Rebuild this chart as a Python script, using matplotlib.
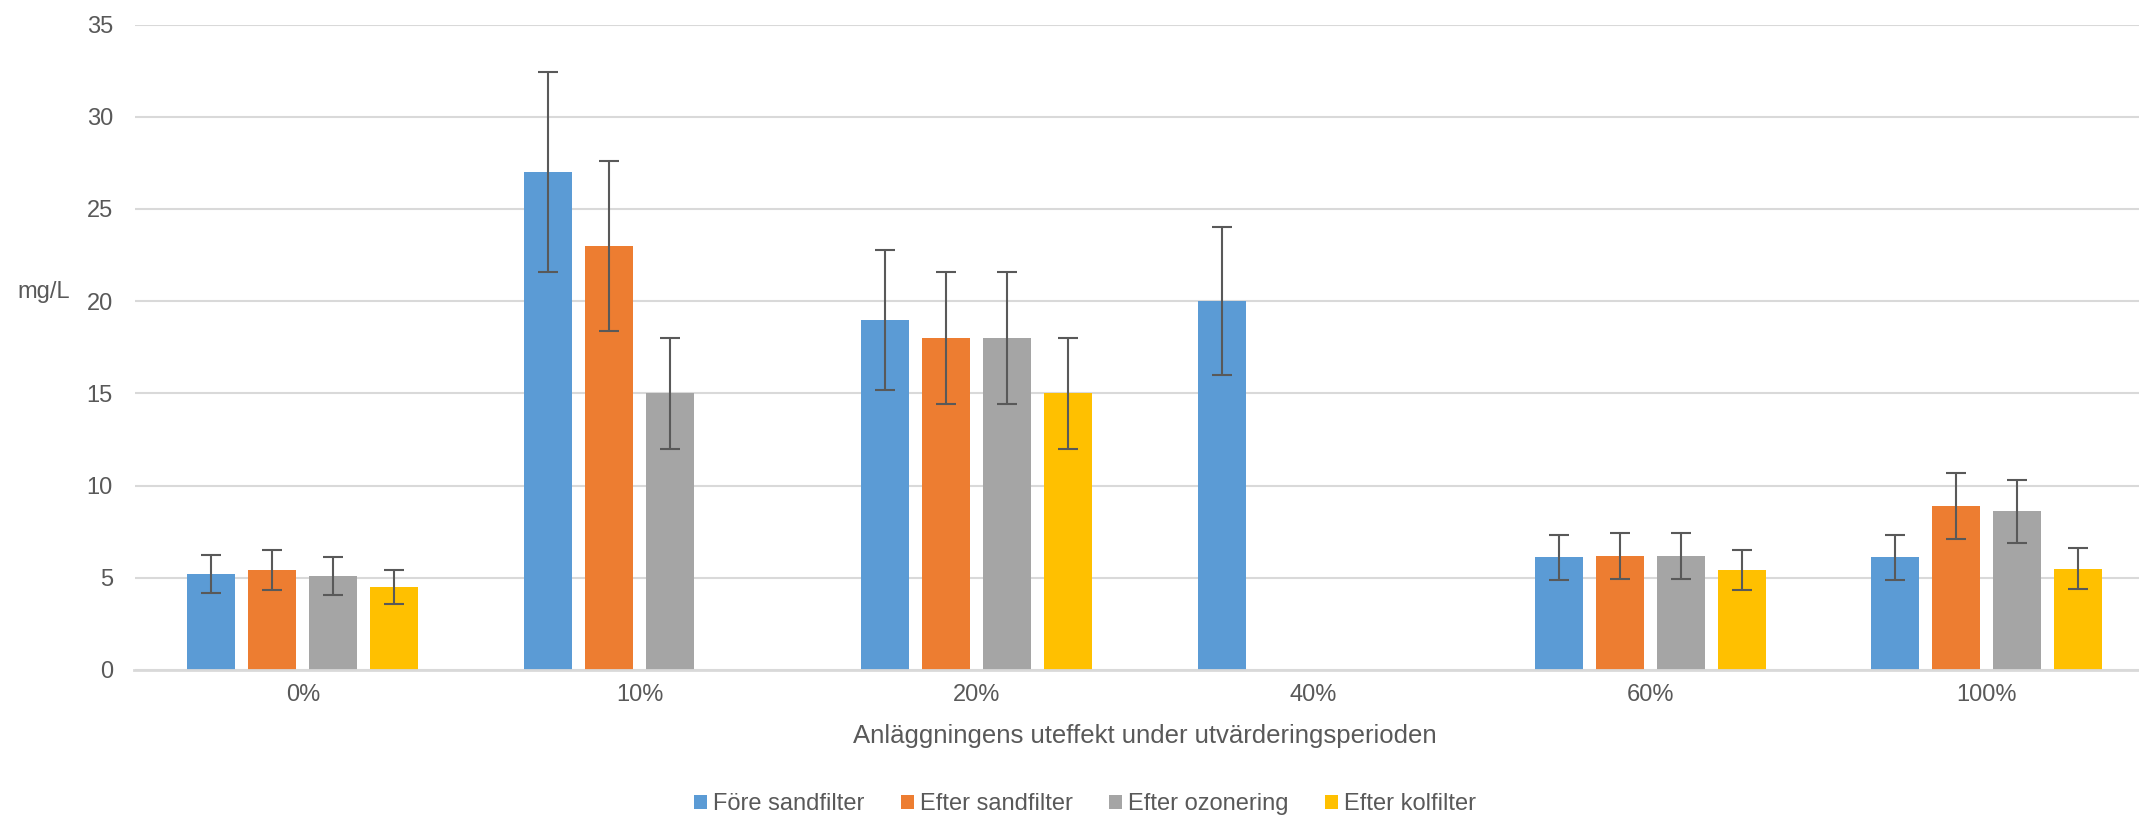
import numpy as np
import matplotlib
matplotlib.use('Agg')
import matplotlib.pyplot as plt

# data
categories = ['0%', '10%', '20%', '40%', '60%', '100%']
series = ['Före sandfilter', 'Efter sandfilter', 'Efter ozonering', 'Efter kolfilter']

fore_sand = [5.2, 27.0, 19.0, 20.0, 6.1, 6.1]
efter_sand = [5.4, 23.0, 18.0, 0.0, 6.2, 8.9]
efter_ozon = [5.1, 15.0, 18.0, 0.0, 6.2, 8.6]
efter_kol = [4.5, 0.0, 15.0, 0.0, 5.4, 5.5]

fore_sand_err = [1.04, 5.4, 3.8, 4.0, 1.22, 1.22]
efter_sand_err = [1.08, 4.6, 3.6, 0.0, 1.24, 1.78]
efter_ozon_err = [1.02, 3.0, 3.6, 0.0, 1.24, 1.72]
efter_kol_err = [0.9, 0.0, 3.0, 0.0, 1.08, 1.1]

values = [fore_sand, efter_sand, efter_ozon, efter_kol]
errors = [fore_sand_err, efter_sand_err, efter_ozon_err, efter_kol_err]
colors = ['#5B9BD5', '#ED7D31', '#A5A5A5', '#FFC000']

txt = '#595959'
plt.rcParams['font.family'] = ['Liberation Sans', 'DejaVu Sans']

W, H = 2139, 818
fig = plt.figure(figsize=(W / 100, H / 100), dpi=100)
# axes runs slightly past the right edge (reference is cropped there)
ax = fig.add_axes([134.5 / W, 1 - 670 / H, 6 * 336.8 / W, (670 - 24.5) / H])

x = np.arange(len(categories))
pitch = 0.181
bw = 0.1425

handles = []
for k in range(4):
    xs = x + (k - 1.5) * pitch
    v = np.array(values[k])
    e = np.array(errors[k])
    b = ax.bar(xs, v, width=bw, color=colors[k], label=series[k], zorder=2)
    handles.append(b)
    # no error bar on the empty (zero) bars
    m = v > 0
    ax.errorbar(xs[m], v[m], yerr=e[m], fmt='none', ecolor='#595959',
                elinewidth=1.5, capsize=7, capthick=1.5, zorder=3)

ax.set_xlim(-0.5, 5.5)
ax.set_ylim(0, 35)
ax.set_yticks(np.arange(0, 36, 5))
ax.set_xticks(x)
ax.set_xticklabels(categories)
ax.yaxis.grid(True, color='#D9D9D9', linewidth=1.5, zorder=0)
ax.set_axisbelow(True)
for s in ['left', 'right', 'top']:
    ax.spines[s].set_visible(False)
ax.spines['bottom'].set_color('#D9D9D9')
ax.spines['bottom'].set_linewidth(2)
ax.tick_params(axis='both', length=0, labelsize=17, colors=txt)
ax.tick_params(axis='y', pad=15.5)
ax.tick_params(axis='x', pad=10)

fig.text(17 / W, 1 - 298 / H, 'mg/L', fontsize=17, color=txt,
         ha='left', va='baseline')
fig.text(1145 / W, 1 - 743 / H, 'Anläggningens uteffekt under utvärderingsperioden',
         fontsize=18.5, color=txt, ha='center', va='baseline')

leg = fig.legend(handles=handles, loc='center', bbox_to_anchor=(1085 / W, 1 - 804 / H),
                 ncol=4, frameon=False, fontsize=17, handlelength=0.54,
                 handleheight=0.54, handletextpad=0.25, columnspacing=1.56,
                 borderpad=0)
for t in leg.get_texts():
    t.set_color(txt)

fig.savefig('out.png', dpi=100)
